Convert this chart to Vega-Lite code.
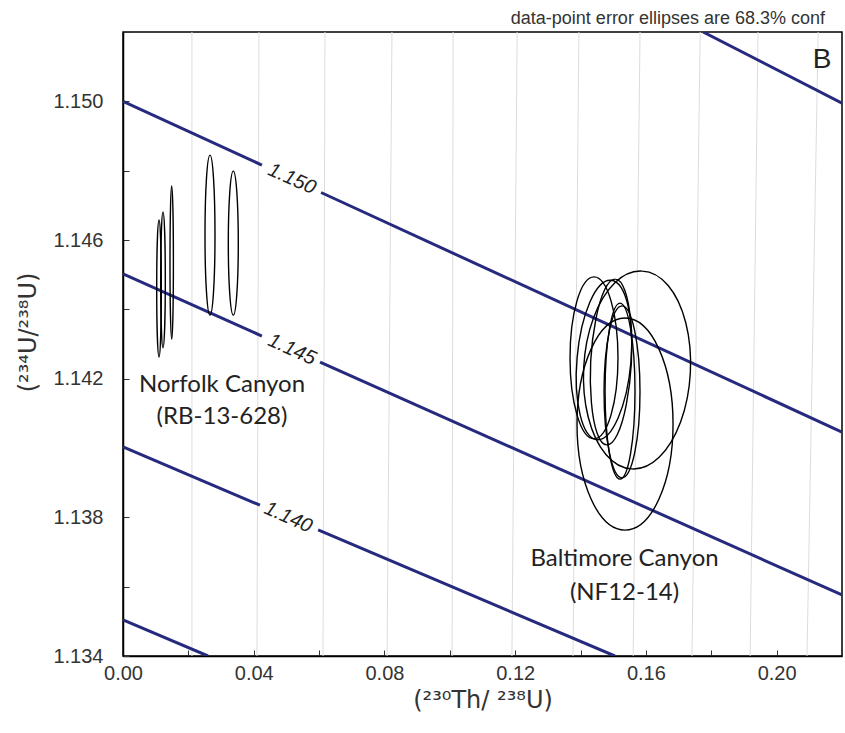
{
  "$schema": "https://vega.github.io/schema/vega-lite/v6.json",
  "width": 719,
  "height": 624,
  "autosize": "none",
  "padding": {"left": 123, "top": 32, "right": 3, "bottom": 77},
  "background": "white",
  "config": {"view": {"stroke": "black", "strokeWidth": 1.5}, "font": "Liberation Sans"},
  "title": {"text": "data-point error ellipses are 68.3% conf", "anchor": "end", "frame": "group", "fontSize": 18, "fontWeight": "normal", "color": "#333", "offset": 0, "dy": 6, "dx": -17, "font": "Liberation Sans"},
  "datasets": {
    "isochrons": [
      {"iso": 1, "x": 0.0211, "y": 1.134}, {"iso": 1, "x": 0.0211, "y": 1.152},
      {"iso": 2, "x": 0.0410, "y": 1.134}, {"iso": 2, "x": 0.0416, "y": 1.152},
      {"iso": 3, "x": 0.0612, "y": 1.134}, {"iso": 3, "x": 0.0618, "y": 1.152},
      {"iso": 4, "x": 0.0808, "y": 1.134}, {"iso": 4, "x": 0.0823, "y": 1.152},
      {"iso": 5, "x": 0.1007, "y": 1.134}, {"iso": 5, "x": 0.1010, "y": 1.152},
      {"iso": 6, "x": 0.1190, "y": 1.134}, {"iso": 6, "x": 0.1206, "y": 1.152},
      {"iso": 7, "x": 0.1377, "y": 1.134}, {"iso": 7, "x": 0.1395, "y": 1.152},
      {"iso": 8, "x": 0.1561, "y": 1.134}, {"iso": 8, "x": 0.1582, "y": 1.152},
      {"iso": 9, "x": 0.1741, "y": 1.134}, {"iso": 9, "x": 0.1766, "y": 1.152},
      {"iso": 10, "x": 0.1919, "y": 1.134}, {"iso": 10, "x": 0.1943, "y": 1.152},
      {"iso": 11, "x": 0.2093, "y": 1.134}, {"iso": 11, "x": 0.2127, "y": 1.152}
    ],
    "contours": [
      {"seg": "c155", "x": 0.1775, "y": 1.152}, {"seg": "c155", "x": 0.22, "y": 1.14995},
      {"seg": "c150a", "x": 0.0, "y": 1.150}, {"seg": "c150a", "x": 0.0425, "y": 1.14816},
      {"seg": "c150b", "x": 0.0606, "y": 1.14737}, {"seg": "c150b", "x": 0.22, "y": 1.14046},
      {"seg": "c145a", "x": 0.0, "y": 1.14502}, {"seg": "c145a", "x": 0.0425, "y": 1.14323},
      {"seg": "c145b", "x": 0.0603, "y": 1.14248}, {"seg": "c145b", "x": 0.22, "y": 1.13576},
      {"seg": "c140a", "x": 0.0, "y": 1.14003}, {"seg": "c140a", "x": 0.0419, "y": 1.13835},
      {"seg": "c140b", "x": 0.0597, "y": 1.13764}, {"seg": "c140b", "x": 0.1505, "y": 1.134},
      {"seg": "c135", "x": 0.0, "y": 1.13504}, {"seg": "c135", "x": 0.026, "y": 1.134}
    ],
    "contourLabels": [
      {"x": 0.0517, "y": 1.14776, "label": "1.150"},
      {"x": 0.0517, "y": 1.14284, "label": "1.145"},
      {"x": 0.0506, "y": 1.13800, "label": "1.140"}
    ],
    "ellipses": [
      {"id": "N1", "site": "Norfolk Canyon", "x": 0.01102, "y": 1.14460, "sx": 0.0007, "sy": 0.001976},
      {"id": "N2", "site": "Norfolk Canyon", "x": 0.01224, "y": 1.14485, "sx": 0.0007, "sy": 0.001961},
      {"id": "N3", "site": "Norfolk Canyon", "x": 0.01490, "y": 1.14535, "sx": 0.0005, "sy": 0.002207},
      {"id": "N4", "site": "Norfolk Canyon", "x": 0.02662, "y": 1.14614, "sx": 0.00153, "sy": 0.002308},
      {"id": "N5", "site": "Norfolk Canyon", "x": 0.03375, "y": 1.14591, "sx": 0.00153, "sy": 0.002077},
      {"id": "B1", "site": "Baltimore Canyon", "x": 0.14412, "y": 1.14260, "sx": 0.00734, "sy": 0.002337},
      {"id": "B2", "site": "Baltimore Canyon", "x": 0.14718, "y": 1.14254, "sx": 0.00826, "sy": 0.002308},
      {"id": "B3", "site": "Baltimore Canyon", "x": 0.14933, "y": 1.14248, "sx": 0.00612, "sy": 0.002394},
      {"id": "B4", "site": "Baltimore Canyon", "x": 0.15208, "y": 1.14164, "sx": 0.00459, "sy": 0.002538},
      {"id": "B5", "site": "Baltimore Canyon", "x": 0.15269, "y": 1.14162, "sx": 0.00551, "sy": 0.002481},
      {"id": "B6", "site": "Baltimore Canyon", "x": 0.15728, "y": 1.14225, "sx": 0.01622, "sy": 0.002856},
      {"id": "B7", "site": "Baltimore Canyon", "x": 0.15361, "y": 1.14069, "sx": 0.01469, "sy": 0.003058}
    ],
    "siteLabels": [
      {"x": 0.0303, "y": 1.14182, "label": "Norfolk Canyon"},
      {"x": 0.0303, "y": 1.14089, "label": "(RB-13-628)"},
      {"x": 0.15346, "y": 1.13680, "label": "Baltimore Canyon"},
      {"x": 0.15346, "y": 1.13582, "label": "(NF12-14)"}
    ],
    "panel": [
      {"x": 0.2139, "y": 1.15119, "label": "B"}
    ]
  },
  "encoding": {
    "x": {
      "field": "x", "type": "quantitative",
      "scale": {"domain": [0, 0.22], "nice": false, "zero": false},
      "axis": {
        "title": "(²³⁰Th/ ²³⁸U)",
        "values": [0, 0.02, 0.04, 0.06, 0.08, 0.1, 0.12, 0.14, 0.16, 0.18, 0.2, 0.22],
        "labelExpr": "(round(datum.value*100) % 4 == 0) ? format(datum.value, '.2f') : ''",
        "grid": false, "tickSize": -6, "labelPadding": 13, "labelFlush": false, "labelOverlap": false,
        "labelFontSize": 20, "labelColor": "#333", "labelFont": "Liberation Sans",
        "titleFontSize": 24, "titleFontWeight": "normal", "titleColor": "#333", "titleFont": "DejaVu Sans", "titlePadding": 5,
        "domainColor": "black", "domainWidth": 1.5, "tickColor": "#333", "tickWidth": 1
      }
    },
    "y": {
      "field": "y", "type": "quantitative",
      "scale": {"domain": [1.134, 1.152], "nice": false, "zero": false},
      "axis": {
        "title": "(²³⁴U/²³⁸U)",
        "values": [1.134, 1.136, 1.138, 1.14, 1.142, 1.144, 1.146, 1.148, 1.15, 1.152],
        "labelExpr": "(round((datum.value-1.134)*1000) % 4 == 0) ? format(datum.value, '.3f') : ''",
        "grid": false, "tickSize": -6, "labelPadding": 26, "labelFlush": false, "labelOverlap": false,
        "labelFontSize": 20, "labelColor": "#333", "labelFont": "Liberation Sans",
        "titleFontSize": 24, "titleFontWeight": "normal", "titleColor": "#333", "titleFont": "DejaVu Sans", "titlePadding": 12, "titleY": 300,
        "domainColor": "black", "domainWidth": 1.5, "tickColor": "#333", "tickWidth": 1
      }
    }
  },
  "layer": [
    {
      "data": {"name": "isochrons"},
      "mark": {"type": "line", "color": "#dcdcdc", "strokeWidth": 1, "clip": true},
      "encoding": {"detail": {"field": "iso", "type": "nominal"}}
    },
    {
      "data": {"name": "contours"},
      "mark": {"type": "line", "color": "#252a7e", "strokeWidth": 3, "clip": true},
      "encoding": {"detail": {"field": "seg", "type": "nominal"}}
    },
    {
      "data": {"name": "ellipses"},
      "mark": {"type": "point", "filled": false, "stroke": "black", "strokeWidth": 1.4, "opacity": 1},
      "encoding": {
        "shape": {
          "field": "id", "type": "nominal", "legend": null,
          "scale": {
            "domain": ["N1", "N2", "N3", "N4", "N5", "B1", "B2", "B3", "B4", "B5", "B6", "B7"],
            "range": [
              "M 0 -1 A 0.0336 1 0 1 1 0 1 A 0.0336 1 0 1 1 0 -1 Z",
              "M 0 -1 A 0.0338 1 0 1 1 0 1 A 0.0338 1 0 1 1 0 -1 Z",
              "M 0 -1 A 0.0222 1 0 1 1 0 1 A 0.0222 1 0 1 1 0 -1 Z",
              "M 0 -1 A 0.0625 1 0 1 1 0 1 A 0.0625 1 0 1 1 0 -1 Z",
              "M 0 -1 A 0.0694 1 0 1 1 0 1 A 0.0694 1 0 1 1 0 -1 Z",
              "M 0 -1 A 0.296 1 0 1 1 0 1 A 0.296 1 0 1 1 0 -1 Z",
              "M 0.0872 -0.9962 A 0.3375 1 5 1 1 -0.0872 0.9962 A 0.3375 1 5 1 1 0.0872 -0.9962 Z",
              "M 0.0523 -0.9986 A 0.241 1 3 1 1 -0.0523 0.9986 A 0.241 1 3 1 1 0.0523 -0.9986 Z",
              "M 0 -1 A 0.170 1 0 1 1 0 1 A 0.170 1 0 1 1 0 -1 Z",
              "M 0 -1 A 0.209 1 0 1 1 0 1 A 0.209 1 0 1 1 0 -1 Z",
              "M 0.0523 -0.9986 A 0.535 1 3 1 1 -0.0523 0.9986 A 0.535 1 3 1 1 0.0523 -0.9986 Z",
              "M 0 -1 A 0.453 1 0 1 1 0 1 A 0.453 1 0 1 1 0 -1 Z"
            ]
          }
        },
        "size": {
          "field": "sy", "type": "quantitative", "legend": null,
          "scale": {"type": "pow", "exponent": 2, "domain": [0, 0.004], "range": [0, 76914], "zero": true, "nice": false}
        }
      }
    },
    {
      "data": {"name": "contourLabels"},
      "mark": {"type": "text", "angle": 24, "fontSize": 20, "fontStyle": "italic", "font": "Liberation Sans", "color": "#222", "align": "center", "baseline": "middle"},
      "encoding": {"text": {"field": "label", "type": "nominal"}}
    },
    {
      "data": {"name": "siteLabels"},
      "mark": {"type": "text", "fontSize": 24, "font": "Lato", "color": "#222", "align": "center", "baseline": "middle"},
      "encoding": {"text": {"field": "label", "type": "nominal"}}
    },
    {
      "data": {"name": "panel"},
      "mark": {"type": "text", "fontSize": 28, "font": "Liberation Sans", "color": "#222", "align": "center", "baseline": "middle"},
      "encoding": {"text": {"field": "label", "type": "nominal"}}
    }
  ]
}
